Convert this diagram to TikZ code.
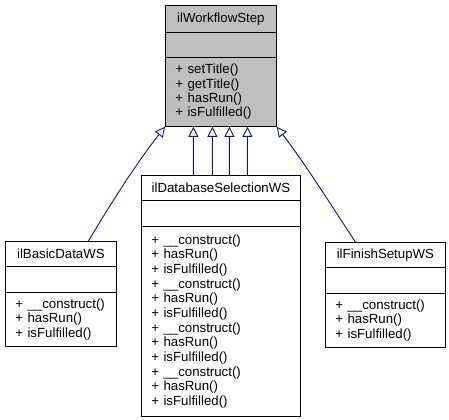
\documentclass[tikz,border=0pt]{standalone}
\usepackage{fontspec}
\setmainfont{Liberation Sans}
\usetikzlibrary{arrows.meta}
\definecolor{edgeblue}{HTML}{191970}
\definecolor{basegray}{HTML}{BFBFBF}
\begin{document}
\begin{tikzpicture}[x=1bp,y=-1bp,
  comp/.style={draw=black, line width=0.8bp, inner sep=0pt, anchor=north west,
    font=\fontsize{13.3}{14.4}\selectfont},
  meth/.style={comp, align=left},
  inh/.style={draw=edgeblue, line width=0.9bp,
    -{Triangle[open, length=10bp, width=10bp, fill=white]}}]
\useasboundingbox (0,0) rectangle (449,419);
% base class
\node[comp, fill=basegray, minimum width=111bp, minimum height=27bp] (wt) at (165,5) {ilWorkflowStep};
\node[comp, fill=basegray, minimum width=111bp, minimum height=25bp] (wa) at (165,32) {};
\node[meth, fill=basegray, minimum width=111bp, minimum height=69bp, text width=91bp] (wm) at (165,57)
  {+ setTitle()\\+ getTitle()\\+ hasRun()\\+ isFulfilled()};
% ilBasicDataWS
\node[comp, minimum width=111bp, minimum height=25bp] (bt) at (5,241) {ilBasicDataWS};
\node[comp, minimum width=111bp, minimum height=26bp] (ba) at (5,266) {};
\node[meth, minimum width=111bp, minimum height=54bp, text width=91bp] (bm) at (5,292)
  {+ \_\_construct()\\+ hasRun()\\+ isFulfilled()};
% ilDatabaseSelectionWS
\node[comp, minimum width=159bp, minimum height=25bp] (dt) at (141,175) {ilDatabaseSelectionWS};
\node[comp, minimum width=159bp, minimum height=26bp] (da) at (141,200) {};
\node[meth, minimum width=159bp, minimum height=190bp, text width=139bp,
  font=\fontsize{13.3}{14.7}\selectfont] (dm) at (141,226)
  {+ \_\_construct()\\+ hasRun()\\+ isFulfilled()\\+ \_\_construct()\\+ hasRun()\\+ isFulfilled()\\+ \_\_construct()\\+ hasRun()\\+ isFulfilled()\\+ \_\_construct()\\+ hasRun()\\+ isFulfilled()};
% ilFinishSetupWS
\node[comp, minimum width=120bp, minimum height=25bp] (ft) at (325,242) {ilFinishSetupWS};
\node[comp, minimum width=120bp, minimum height=26bp] (fa) at (325,267) {};
\node[meth, minimum width=120bp, minimum height=54bp, text width=100bp] (fm) at (325,293)
  {+ \_\_construct()\\+ hasRun()\\+ isFulfilled()};
% inheritance connectors
\draw[inh] ([xshift=27.5bp]bt.north) .. controls (110,205) and (135,165) .. (wm.south west);
\draw[inh] ([xshift=-27.5bp]dt.north) -- ([xshift=-27.5bp]wm.south);
\draw[inh] ([xshift=-8.5bp]dt.north) -- ([xshift=-8.5bp]wm.south);
\draw[inh] ([xshift=8.5bp]dt.north) -- ([xshift=8.5bp]wm.south);
\draw[inh] ([xshift=26.5bp]dt.north) -- ([xshift=26.5bp]wm.south);
\draw[inh] ([xshift=-30bp]ft.north) .. controls (331,205) and (306,165) .. (wm.south east);
\end{tikzpicture}
\end{document}
